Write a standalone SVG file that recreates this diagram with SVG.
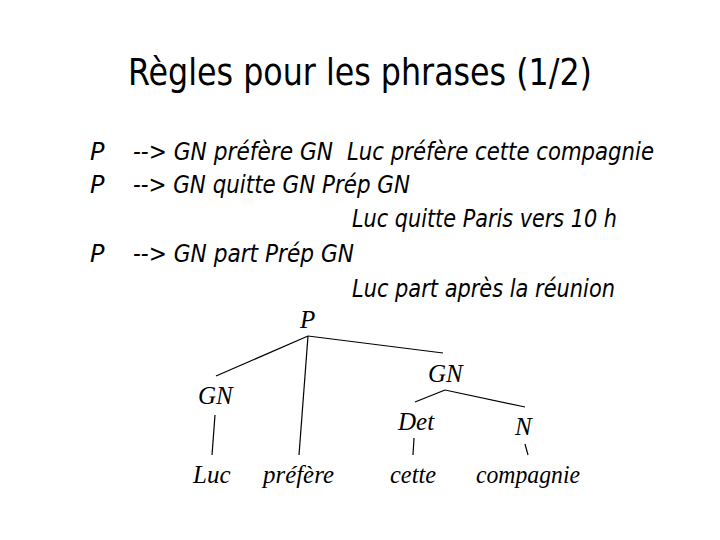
<svg xmlns="http://www.w3.org/2000/svg" width="720" height="540" viewBox="0 0 720 540">
<style>
.title{font-family:"DejaVu Sans","Liberation Sans",sans-serif;font-size:38px;fill:#000}
.rule{font-family:"DejaVu Sans","Liberation Sans",sans-serif;font-style:italic;font-size:24px;fill:#000}
.tree{font-family:"Liberation Serif","Times New Roman",serif;font-style:italic;font-size:25px;fill:#000}
.edge{stroke:#000;stroke-width:1.2;fill:none}
</style>
<rect width="720" height="540" fill="#fff"/>
<text class="title" x="128" y="85" textLength="464" lengthAdjust="spacingAndGlyphs">Règles pour les phrases (1/2)</text>
<g id="rules">
<text class="rule" x="90" y="160">P</text>
<text class="rule" x="133" y="160" textLength="200" lengthAdjust="spacingAndGlyphs">--&gt; GN préfère GN</text>
<text class="rule" x="347" y="160" textLength="307" lengthAdjust="spacingAndGlyphs">Luc préfère cette compagnie</text>
<text class="rule" x="90" y="193">P</text>
<text class="rule" x="133" y="193" textLength="277" lengthAdjust="spacingAndGlyphs">--&gt; GN quitte GN Prép GN</text>
<text class="rule" x="352" y="227" textLength="265" lengthAdjust="spacingAndGlyphs">Luc quitte Paris vers 10 h</text>
<text class="rule" x="90" y="262">P</text>
<text class="rule" x="133" y="262" textLength="221" lengthAdjust="spacingAndGlyphs">--&gt; GN part Prép GN</text>
<text class="rule" x="352" y="297" textLength="263" lengthAdjust="spacingAndGlyphs">Luc part après la réunion</text>
</g>
<g id="connectors">
<line class="edge" x1="308" y1="336" x2="216" y2="376"/>
<line class="edge" x1="308" y1="336" x2="443" y2="353"/>
<line class="edge" x1="308" y1="336" x2="299" y2="455"/>
<line class="edge" x1="215" y1="415" x2="212" y2="455"/>
<line class="edge" x1="445" y1="390" x2="415" y2="402"/>
<line class="edge" x1="445" y1="390" x2="525" y2="407"/>
<line class="edge" x1="414" y1="438" x2="413" y2="455"/>
<line class="edge" x1="525" y1="444" x2="528" y2="455"/>
</g>
<g id="node-P"><text class="tree" x="300" y="328">P</text></g>
<g id="node-GN1"><text class="tree" x="198" y="404">GN</text></g>
<g id="node-GN2"><text class="tree" x="428" y="382">GN</text></g>
<g id="node-Det"><text class="tree" x="398" y="430">Det</text></g>
<g id="node-N"><text class="tree" x="515" y="435">N</text></g>
<g id="node-Luc"><text class="tree" x="193" y="483">Luc</text></g>
<g id="node-prefere"><text class="tree" x="263" y="483" textLength="71" lengthAdjust="spacingAndGlyphs">préfère</text></g>
<g id="node-cette"><text class="tree" x="390" y="483" textLength="46" lengthAdjust="spacingAndGlyphs">cette</text></g>
<g id="node-compagnie"><text class="tree" x="476" y="483" textLength="104" lengthAdjust="spacingAndGlyphs">compagnie</text></g>
</svg>
